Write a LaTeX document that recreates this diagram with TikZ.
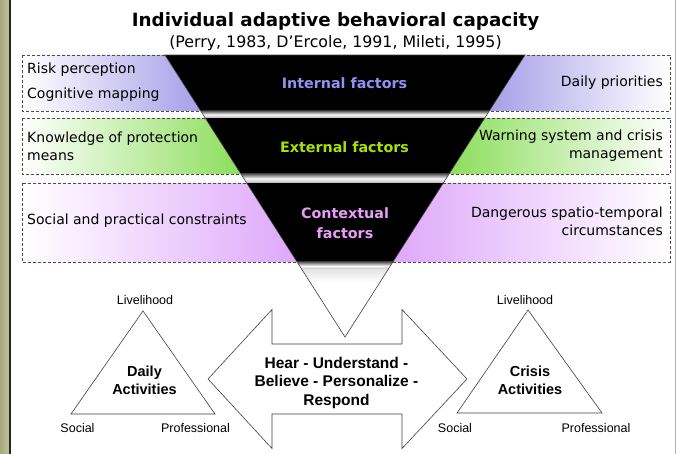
\documentclass[tikz,border=0pt]{standalone}
\usepackage{fontspec}
\setmainfont{DejaVu Sans}
\newfontfamily\helv{Liberation Sans}
\usepackage{xcolor}
\usepackage{tikz}
\usetikzlibrary{positioning}

\definecolor{paper}{RGB}{198,198,152}
\definecolor{lavfill}{RGB}{168,158,232}
\definecolor{greenfill}{RGB}{140,222,92}
\definecolor{pinkfill}{RGB}{222,168,250}
\definecolor{internalcol}{RGB}{146,146,245}
\definecolor{externalcol}{RGB}{168,226,0}
\definecolor{contextcol}{RGB}{232,158,248}

\begin{document}
\begin{tikzpicture}[
    x=1pt, y=-1pt,
    sidetext/.style={font=\fontsize{14}{18}\selectfont, inner sep=0pt},
    factor/.style={font=\bfseries\fontsize{14.3}{20}\selectfont, align=center, inner sep=0pt},
    dashbox/.style={draw=gray!60!black, dash pattern=on 3pt off 2pt, line width=0.8pt},
    bar/.style={top color=gray!75!black, bottom color=gray!60, middle color=white!95!gray},
    tri/.style={draw=black!75, line width=0.6pt},
    corner/.style={font=\helv\fontsize{12.5}{15}\selectfont, inner sep=0pt},
    activity/.style={font=\helv\bfseries\fontsize{14.5}{18}\selectfont, align=center, inner sep=0pt}
]
    \useasboundingbox (0,0) rectangle (681,454);
    \fill[white] (0,0) rectangle (681,454);

    % Page edge
    \shade[left color=paper!85!black, right color=paper] (0,0) rectangle (10,454);
    \draw[gray!30!black, line width=1.4pt] (10,0) -- (10,454);
    \draw[gray!60, line width=0.8pt] (675,0) -- (675,454);

    % Title
    \node[anchor=base, font=\bfseries\fontsize{18.3}{22}\selectfont] (title) at (335.5,27) {Individual adaptive behavioral capacity};
    \node[anchor=base, font=\fontsize{15.8}{19}\selectfont] (refs) at (335.5,47.5) {(Perry, 1983, D'Ercole, 1991, Mileti, 1995)};

    % Coloured rows
    \shade[left color=white, right color=lavfill] (22,55) -- (165,55) -- (200.7,111) -- (22,111) -- cycle;
    \shade[left color=lavfill, right color=white] (525,55) -- (670,55) -- (670,111) -- (489.3,111) -- cycle;
    \shade[left color=white, right color=greenfill] (22,118) -- (205.2,118) -- (240.9,174) -- (22,174) -- cycle;
    \shade[left color=greenfill, right color=white] (484.8,118) -- (670,118) -- (670,174) -- (449.1,174) -- cycle;
    \shade[left color=white, right color=pinkfill] (22,183) -- (246.7,183) -- (297.1,262) -- (22,262) -- cycle;
    \shade[left color=pinkfill, right color=white] (443.3,183) -- (670,183) -- (670,262) -- (392.9,262) -- cycle;
    \draw[dashbox] (22,55) rectangle (670,111);
    \draw[dashbox] (22,118) rectangle (670,174);
    \draw[dashbox] (22,183) rectangle (670,262);

    % Funnel
    \coordinate (ftl) at (165,55);
    \coordinate (ftr) at (525,55);
    \coordinate (fapex) at (345,337);
    \begin{scope}
        \clip (ftl) -- (ftr) -- (fapex) -- cycle;
        \fill[black] (150,55) rectangle (540,111);
        \shade[bar] (150,111) rectangle (540,118);
        \fill[black] (150,118) rectangle (540,174);
        \shade[bar] (150,174) rectangle (540,183);
        \fill[black] (150,183) rectangle (540,262);
        \shade[bar] (150,262) rectangle (540,270);
        \shade[top color=gray!20, bottom color=white] (150,270) rectangle (540,282);
    \end{scope}
    \draw[tri] (ftl) -- (ftr) -- (fapex) -- cycle;

    % Factor labels
    \node[factor, text=internalcol, anchor=base] (internal) at (344.5,88.5) {Internal factors};
    \node[factor, text=externalcol, anchor=base] (external) at (344.5,153) {External factors};
    \node[factor, text=contextcol, anchor=north] (contextual) at (345,207.6) {Contextual\\factors};

    % Side texts
    \node[sidetext, anchor=base west] (riskperc) at (27,74) {Risk perception};
    \node[sidetext, anchor=base west] (cogmap) at (27,99) {Cognitive mapping};
    \node[sidetext, anchor=base east] (dailyprio) at (663,87) {Daily priorities};
    \node[sidetext, anchor=north west, align=left] (knowprot) at (27,131.4) {Knowledge of protection\\means};
    \node[sidetext, anchor=north east, align=right] (warnsys) at (663,129.9) {Warning system and crisis\\management};
    \node[sidetext, anchor=base west] (socconst) at (27,225) {Social and practical constraints};
    \node[sidetext, anchor=north east, align=right] (dangcirc) at (663,206.4) {Dangerous spatio-temporal\\circumstances};

    % Daily activities triangle
    \coordinate (dtop) at (143,311);
    \coordinate (dleft) at (71,414);
    \coordinate (dright) at (215,414);
    \draw[tri] (dtop) -- (dleft) -- (dright) -- cycle;
    \node[corner, anchor=base] (dlive) at (145,305) {Livelihood};
    \node[corner, anchor=base] (dsoc) at (77.5,433) {Social};
    \node[corner, anchor=base] (dprof) at (195.5,433) {Professional};
    \node[activity, anchor=north] (daily) at (144.5,365.6) {Daily\\Activities};

    % Crisis activities triangle
    \coordinate (ctop) at (528,310);
    \coordinate (cleft) at (457,413);
    \coordinate (cright) at (602,413);
    \draw[tri] (ctop) -- (cleft) -- (cright) -- cycle;
    \node[corner, anchor=base] (clive) at (525,305) {Livelihood};
    \node[corner, anchor=base] (csoc) at (455,433) {Social};
    \node[corner, anchor=base] (cprof) at (596,433) {Professional};
    \node[activity, anchor=north] (crisis) at (530,365.6) {Crisis\\Activities};

    % Double arrow
    \draw[tri, fill=white] (208,379) -- (272,309.5) -- (272,344) -- (402,344) -- (402,309.5)
        -- (467,379) -- (402,448.5) -- (402,414) -- (272,414) -- (272,448.5) -- cycle;
    \node[font=\helv\bfseries\fontsize{15.5}{18.5}\selectfont, align=center, inner sep=0pt, anchor=north] (steps) at (336.5,356.9)
        {Hear - Understand -\\Believe - Personalize -\\Respond};
\end{tikzpicture}
\end{document}
